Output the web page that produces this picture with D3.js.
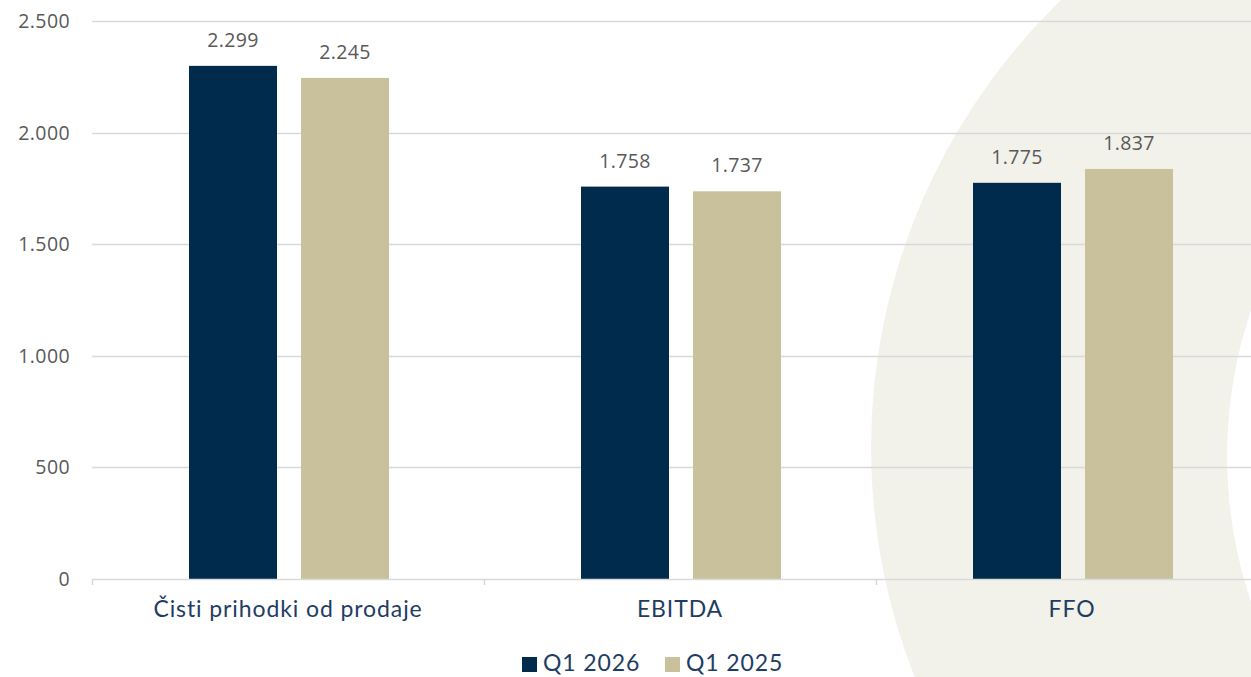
<!DOCTYPE html>
<html><head><meta charset="utf-8">
<script src="https://cdn.jsdelivr.net/npm/d3@7"></script>
<style>
html,body{margin:0;padding:0;background:#fff;overflow:hidden;}
svg{display:block;}
</style></head>
<body>
<svg id="chart" width="1251" height="677"></svg>
<script>
const categories = ["Čisti prihodki od prodaje", "EBITDA", "FFO"];
const seriesNames = ["Q1 2026", "Q1 2025"];
const q1_2026 = [2299, 1758, 1775];
const q1_2025 = [2245, 1737, 1837];
const yTicks = [0, 500, 1000, 1500, 2000, 2500];
const colors = ["#002b4d", "#c9c19b"];

(function () {
const svg = d3.select("#chart");
const W = 1251, H = 677;
const mLeft = 92, mRight = 1268, mTop = 21, mBottom = 579;

const fmt = v => d3.format(",")(v).replace(/,/g, ".");

// decorative background ring
svg.append("path")
  .attr("d", () => {
    const p = d3.path();
    p.moveTo(1494 + 623, 448); p.arc(1494, 448, 623, 0, Math.PI * 2);
    p.moveTo(1682 + 455, 456); p.arc(1682, 456, 455, 0, Math.PI * 2);
    return p.toString();
  })
  .attr("fill", "#f2f1ea")
  .attr("fill-rule", "evenodd");

const x0 = d3.scaleBand().domain(categories).range([mLeft, mRight]).padding(0);
const x1 = d3.scaleBand().domain(seriesNames).range([97, 297]).paddingInner(24 / 112).paddingOuter(0);
const y = d3.scaleLinear().domain([0, 2500]).range([mBottom, mTop]);

// gridlines
svg.append("g").selectAll("line").data(yTicks.filter(d => d > 0)).join("line")
  .attr("x1", mLeft).attr("x2", W)
  .attr("y1", d => Math.round(y(d)) + 0.5).attr("y2", d => Math.round(y(d)) + 0.5)
  .attr("stroke", "#d9d9d9").attr("stroke-width", 1.5);

// y tick labels
svg.append("g").selectAll("text").data(yTicks).join("text")
  .attr("x", 70).attr("y", d => y(d)).attr("dy", "0.36em")
  .attr("text-anchor", "end")
  .attr("font-family", "'Open Sans', sans-serif").attr("font-size", 19.5)
  .attr("letter-spacing", 0.4)
  .attr("fill", "#595959")
  .text(d => fmt(d));

// bars
const data = categories.map((c, i) => ({ cat: c, vals: [q1_2026[i], q1_2025[i]] }));
const groups = svg.append("g").selectAll("g").data(data).join("g")
  .attr("transform", d => `translate(${x0(d.cat)},0)`);

const items = d => d.vals.map((v, j) => ({ s: seriesNames[j], v, j }));

groups.selectAll("rect").data(items).join("rect")
  .attr("x", d => x1(d.s))
  .attr("y", d => y(d.v))
  .attr("width", x1.bandwidth())
  .attr("height", d => mBottom - y(d.v))
  .attr("fill", d => colors[d.j]);

groups.selectAll("text").data(items).join("text")
  .attr("x", d => x1(d.s) + x1.bandwidth() / 2)
  .attr("y", d => y(d.v) - 19)
  .attr("text-anchor", "middle")
  .attr("font-family", "'Open Sans', sans-serif").attr("font-size", 19.5)
  .attr("letter-spacing", 0.4)
  .attr("fill", "#595959")
  .text(d => fmt(d.v));

// x axis line and ticks
svg.append("line").attr("x1", mLeft).attr("x2", W).attr("y1", mBottom + 0.5).attr("y2", mBottom + 0.5)
  .attr("stroke", "#d9d9d9").attr("stroke-width", 1.5);
svg.append("g").selectAll("line").data(categories.map(c => x0(c)).concat([mRight])).join("line")
  .attr("x1", d => d + 0.5).attr("x2", d => d + 0.5)
  .attr("y1", mBottom).attr("y2", mBottom + 6)
  .attr("stroke", "#d9d9d9").attr("stroke-width", 1.5);

// category labels
svg.append("g").selectAll("text").data(categories).join("text")
  .attr("x", d => x0(d) + x0.bandwidth() / 2)
  .attr("y", 617)
  .attr("text-anchor", "middle")
  .attr("font-family", "Lato, sans-serif").attr("font-size", 23)
  .attr("letter-spacing", 0.9)
  .attr("fill", "#1f3d63")
  .text(d => d);

// legend
const legendX = [522, 665];
const lg = svg.append("g").selectAll("g").data(seriesNames).join("g")
  .attr("transform", (d, i) => `translate(${legendX[i]},0)`);
lg.append("rect").attr("x", 0).attr("y", 657).attr("width", 15).attr("height", 15)
  .attr("fill", (d, i) => colors[i]);
lg.append("text").attr("x", 21).attr("y", 671)
  .attr("font-family", "Lato, sans-serif").attr("font-size", 23)
  .attr("letter-spacing", 0.9)
  .attr("fill", "#1f3d63")
  .text(d => d);
})();
</script>
</body></html>
